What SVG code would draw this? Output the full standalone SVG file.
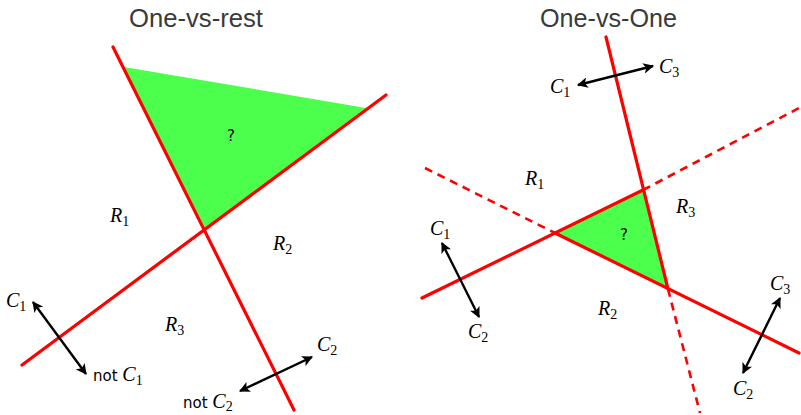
<svg xmlns="http://www.w3.org/2000/svg" width="801" height="415" viewBox="0 0 801 415">
<defs>
<marker id="ah" viewBox="0 0 10 10" refX="9" refY="5" markerWidth="4.5" markerHeight="4.5" orient="auto-start-reverse" markerUnits="strokeWidth">
<path d="M0,0 L10,5 L0,10 L2.5,5 z" fill="#000"/>
</marker>
</defs>
<style>
.title{font-family:"Liberation Sans",Arial,sans-serif;font-size:26px;fill:#3a3a3a}
.red{stroke:#ff0000;stroke-width:3.2;fill:none;stroke-linecap:round}
.dash{stroke:#ff0000;stroke-width:2.6;fill:none;stroke-dasharray:8 6}
.green{fill:#4dff4d;stroke:none}
.arr{stroke:#000;stroke-width:2.4;fill:none;marker-start:url(#ah);marker-end:url(#ah)}
.cal{font-family:"Liberation Serif","DejaVu Serif",serif;font-style:italic;font-size:20px;fill:#000}
.sub{font-family:"Liberation Serif","DejaVu Serif",serif;font-style:normal;font-size:14px}
.txt{font-family:"DejaVu Sans","Liberation Sans",sans-serif;font-size:15px;fill:#000}
.q{font-family:"DejaVu Sans","Liberation Sans",sans-serif;font-size:15px;fill:#000}
</style>
<g id="titles">
<text class="title" x="129" y="27" textLength="134" lengthAdjust="spacingAndGlyphs">One-vs-rest</text>
<text class="title" x="540" y="27" textLength="137" lengthAdjust="spacingAndGlyphs">One-vs-One</text>
</g>
<g id="left-panel">
<g id="left-region-unknown">
<polygon class="green" points="124,67 366,108 205,228"/>
<text class="q" x="227" y="141">?</text>
</g>
<g id="left-boundaries">
<line class="red" x1="113" y1="47" x2="294" y2="410"/>
<line class="red" x1="22" y1="365" x2="386" y2="95"/>
</g>
<g id="left-labels">
<text class="cal" x="110" y="222">R<tspan class="sub" dy="4">1</tspan></text>
<text class="cal" x="273" y="250">R<tspan class="sub" dy="4">2</tspan></text>
<text class="cal" x="165" y="331">R<tspan class="sub" dy="4">3</tspan></text>
<text class="cal" x="6" y="307">C<tspan class="sub" dy="4">1</tspan></text>
<text class="txt" x="93" y="381">not <tspan class="cal">C</tspan><tspan class="sub" dy="4">1</tspan></text>
<text class="cal" x="317" y="351">C<tspan class="sub" dy="4">2</tspan></text>
<text class="txt" x="183" y="408">not <tspan class="cal">C</tspan><tspan class="sub" dy="3">2</tspan></text>
</g>
</g>
<g id="right-panel">
<g id="right-region-unknown">
<polygon class="green" points="555,233 643,190 668,289"/>
<text class="q" x="620" y="240">?</text>
</g>
<g id="right-boundaries">
<line class="red" x1="422" y1="298" x2="643" y2="190"/>
<line class="dash" x1="643" y1="190" x2="801" y2="107"/>
<line class="dash" x1="425" y1="168" x2="555" y2="233"/>
<line class="red" x1="555" y1="233" x2="799" y2="353"/>
<line class="red" x1="606" y1="37" x2="668" y2="289"/>
<line class="dash" x1="668" y1="289" x2="700" y2="413"/>
</g>
<g id="right-labels">
<text class="cal" x="525" y="185">R<tspan class="sub" dy="4">1</tspan></text>
<text class="cal" x="676" y="213">R<tspan class="sub" dy="4">3</tspan></text>
<text class="cal" x="598" y="315">R<tspan class="sub" dy="4">2</tspan></text>
<text class="cal" x="430" y="235">C<tspan class="sub" dy="4">1</tspan></text>
<text class="cal" x="468" y="338">C<tspan class="sub" dy="4">2</tspan></text>
<text class="cal" x="770" y="290">C<tspan class="sub" dy="4">3</tspan></text>
<text class="cal" x="733" y="395">C<tspan class="sub" dy="4">2</tspan></text>
<text class="cal" x="550" y="93">C<tspan class="sub" dy="4">1</tspan></text>
<text class="cal" x="659" y="73">C<tspan class="sub" dy="4">3</tspan></text>
</g>
</g>
<g id="connectors">
<line class="arr" x1="33" y1="302" x2="86" y2="374"/>
<line class="arr" x1="240" y1="391" x2="312" y2="357"/>
<line class="arr" x1="442" y1="243" x2="479" y2="317"/>
<line class="arr" x1="780" y1="298" x2="743" y2="373"/>
<line class="arr" x1="578" y1="85" x2="653" y2="66"/>
</g>
</svg>
